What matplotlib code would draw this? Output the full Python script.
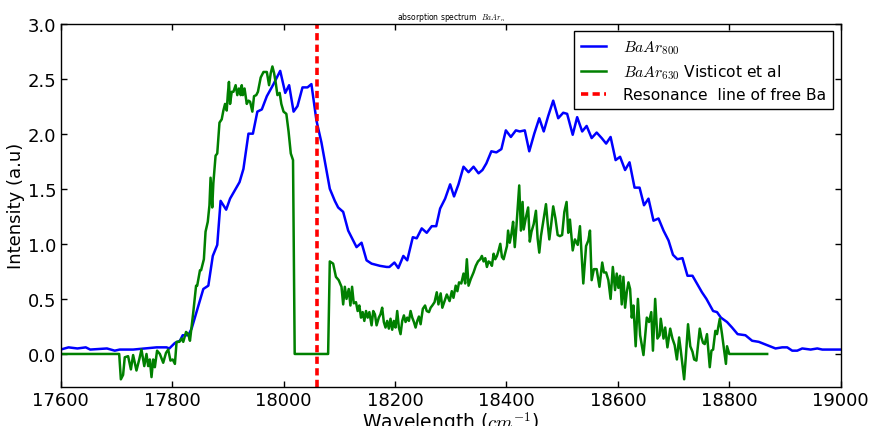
import matplotlib
matplotlib.use("Agg")
import matplotlib.pyplot as plt

plt.rcParams['mathtext.fontset'] = 'cm'

# BaAr_800 spectrum (blue)
blue_w = [17600, 17614, 17630, 17645, 17653, 17683, 17697, 17706, 17730, 17750,
          17772, 17790, 17795, 17805, 17814, 17819, 17829, 17835, 17856, 17865,
          17873, 17881, 17887, 17897, 17904, 17921, 17928, 17937, 17945, 17953,
          17961, 17970, 17982, 17994, 18003, 18010, 18018, 18025, 18034, 18043,
          18050, 18059, 18068, 18083, 18092, 18098, 18107, 18116, 18131, 18140,
          18149, 18158, 18173, 18185, 18190, 18199, 18206, 18215, 18222, 18232,
          18239, 18248, 18257, 18266, 18274, 18281, 18290, 18299, 18306, 18314,
          18323, 18332, 18341, 18350, 18357, 18364, 18373, 18382, 18391, 18399,
          18408, 18417, 18424, 18433, 18441, 18450, 18459, 18467, 18475, 18484,
          18493, 18502, 18509, 18519, 18527, 18536, 18544, 18553, 18562, 18571,
          18579, 18587, 18596, 18604, 18613, 18621, 18630, 18639, 18647, 18655,
          18664, 18673, 18682, 18691, 18699, 18707, 18716, 18725, 18734, 18742,
          18751, 18759, 18771, 18778, 18785, 18796, 18805, 18815, 18829, 18841,
          18853, 18868, 18883, 18895, 18904, 18913, 18922, 18931, 18946, 18958,
          18967, 18982, 19000]
blue_v = [0.04, 0.06, 0.05, 0.06, 0.04, 0.05, 0.03, 0.04, 0.04, 0.05,
          0.06, 0.06, 0.05, 0.10, 0.12, 0.17, 0.17, 0.23, 0.59, 0.62,
          0.89, 0.99, 1.39, 1.31, 1.41, 1.56, 1.68, 2.00, 2.00, 2.20,
          2.22, 2.34, 2.45, 2.57, 2.37, 2.44, 2.20, 2.25, 2.42, 2.42,
          2.45, 2.12, 1.92, 1.50, 1.39, 1.33, 1.29, 1.12, 0.97, 1.01,
          0.85, 0.82, 0.80, 0.79, 0.79, 0.83, 0.78, 0.89, 0.85, 1.06,
          1.05, 1.14, 1.10, 1.16, 1.16, 1.32, 1.41, 1.54, 1.43, 1.54,
          1.70, 1.65, 1.70, 1.64, 1.67, 1.73, 1.84, 1.83, 1.86, 2.03,
          1.97, 2.03, 2.02, 2.03, 1.84, 2.00, 2.14, 2.02, 2.16, 2.30,
          2.14, 2.19, 2.18, 1.99, 2.15, 2.02, 2.07, 1.96, 2.01, 1.96,
          1.91, 1.97, 1.76, 1.79, 1.67, 1.74, 1.51, 1.51, 1.35, 1.41,
          1.21, 1.23, 1.12, 1.03, 0.90, 0.86, 0.87, 0.71, 0.71, 0.64,
          0.56, 0.50, 0.39, 0.38, 0.33, 0.29, 0.24, 0.18, 0.17, 0.12,
          0.11, 0.08, 0.05, 0.06, 0.06, 0.03, 0.03, 0.05, 0.04, 0.05,
          0.04, 0.04, 0.04]

# BaAr_630 spectrum, Visticot et al (green)
green_w = [17600, 17705, 17708, 17712, 17715, 17721, 17726, 17730, 17736, 17741,
           17745, 17750, 17754, 17757, 17760, 17763, 17766, 17769, 17773, 17778,
           17784, 17789, 17793, 17797, 17801, 17805, 17808, 17813, 17817, 17820,
           17825, 17829, 17832, 17838, 17843, 17845, 17850, 17852, 17857, 17860,
           17864, 17867, 17869, 17872, 17874, 17878, 17881, 17885, 17889, 17892,
           17895, 17898, 17900, 17902, 17904, 17907, 17910, 17914, 17917, 17920,
           17923, 17925, 17927, 17930, 17934, 17937, 17940, 17944, 17947, 17951,
           17954, 17959, 17964, 17970, 17974, 17977, 17980, 17983, 17986, 17989,
           17993, 17996, 18000, 18005, 18009, 18013, 18017, 18020, 18080, 18083,
           18089, 18094, 18099, 18104, 18107, 18110, 18113, 18117, 18120, 18123,
           18126, 18130, 18133, 18136, 18139, 18142, 18145, 18148, 18151, 18154,
           18158, 18161, 18164, 18167, 18171, 18174, 18177, 18180, 18183, 18186,
           18189, 18192, 18195, 18198, 18201, 18204, 18207, 18210, 18213, 18216,
           18219, 18222, 18225, 18228, 18231, 18234, 18237, 18240, 18243, 18246,
           18250, 18254, 18257, 18261, 18264, 18267, 18271, 18275, 18278, 18282,
           18285, 18289, 18293, 18298, 18302, 18305, 18309, 18312, 18315, 18319,
           18323, 18326, 18329, 18332, 18336, 18341, 18345, 18349, 18353, 18356,
           18359, 18362, 18365, 18368, 18371, 18374, 18377, 18380, 18383, 18386,
           18389, 18392, 18395, 18398, 18401, 18403, 18406, 18409, 18412, 18415,
           18418, 18423, 18426, 18429, 18431, 18435, 18439, 18442, 18445, 18449,
           18453, 18456, 18459, 18462, 18466, 18471, 18474, 18477, 18480, 18484,
           18488, 18492, 18496, 18500, 18504, 18508, 18511, 18514, 18519, 18523,
           18528, 18532, 18538, 18543, 18547, 18550, 18553, 18557, 18562, 18567,
           18572, 18575, 18579, 18583, 18587, 18591, 18595, 18598, 18601, 18604,
           18607, 18610, 18613, 18616, 18619, 18622, 18625, 18628, 18632, 18636,
           18640, 18646, 18652, 18656, 18660, 18663, 18667, 18671, 18675, 18677,
           18682, 18685, 18689, 18694, 18698, 18702, 18706, 18710, 18713, 18719,
           18722, 18726, 18730, 18734, 18737, 18741, 18747, 18750, 18753, 18756,
           18760, 18765, 18768, 18771, 18775, 18778, 18783, 18787, 18791, 18794,
           18796, 18800, 18868]
green_v = [0.00, 0.00, -0.23, -0.19, -0.03, -0.02, -0.14, -0.01, -0.15, -0.05,
           0.04, -0.11, 0.00, -0.11, -0.05, -0.21, -0.05, -0.12, 0.03, 0.00,
           -0.08, 0.01, 0.04, -0.06, -0.05, -0.09, 0.11, 0.11, 0.14, 0.11,
           0.20, 0.18, 0.12, 0.38, 0.62, 0.62, 0.76, 0.76, 0.86, 1.11,
           1.20, 1.35, 1.60, 1.33, 1.55, 1.80, 1.82, 2.10, 2.13, 2.21,
           2.27, 2.21, 2.36, 2.47, 2.27, 2.38, 2.38, 2.44, 2.35, 2.41,
           2.35, 2.44, 2.35, 2.41, 2.27, 2.30, 2.29, 2.20, 2.34, 2.35,
           2.38, 2.51, 2.56, 2.56, 2.44, 2.55, 2.61, 2.55, 2.46, 2.35,
           2.37, 2.27, 2.20, 2.18, 2.02, 1.82, 1.76, 0.00, 0.00, 0.84,
           0.82, 0.70, 0.67, 0.61, 0.45, 0.61, 0.50, 0.59, 0.44, 0.61,
           0.46, 0.47, 0.39, 0.44, 0.33, 0.38, 0.30, 0.39, 0.33, 0.38,
           0.26, 0.39, 0.36, 0.26, 0.33, 0.36, 0.42, 0.29, 0.24, 0.30,
           0.23, 0.32, 0.22, 0.30, 0.24, 0.39, 0.24, 0.18, 0.30, 0.35,
           0.29, 0.33, 0.30, 0.39, 0.33, 0.29, 0.24, 0.30, 0.34, 0.27,
           0.41, 0.44, 0.39, 0.38, 0.42, 0.44, 0.47, 0.56, 0.45, 0.55,
           0.42, 0.48, 0.54, 0.48, 0.57, 0.51, 0.62, 0.57, 0.65, 0.64,
           0.73, 0.64, 0.86, 0.62, 0.68, 0.74, 0.80, 0.84, 0.86, 0.89,
           0.84, 0.87, 0.79, 0.84, 0.83, 0.80, 0.91, 0.86, 0.89, 0.94,
           1.00, 0.88, 0.86, 0.92, 0.98, 1.12, 1.01, 1.09, 1.20, 0.97,
           1.16, 1.53, 1.12, 1.38, 1.13, 1.24, 1.33, 1.02, 1.11, 1.18,
           1.30, 1.05, 0.92, 1.07, 1.20, 1.36, 1.19, 1.04, 1.16, 1.34,
           1.23, 1.08, 1.07, 1.08, 1.29, 1.38, 1.10, 1.22, 0.94, 1.04,
           0.99, 1.16, 0.64, 0.98, 1.03, 1.12, 0.67, 0.77, 0.77, 0.61,
           0.83, 0.74, 0.74, 0.67, 0.50, 0.79, 0.58, 0.73, 0.60, 0.71,
           0.45, 0.70, 0.42, 0.56, 0.65, 0.59, 0.33, 0.44, 0.07, 0.50,
           0.17, -0.01, 0.33, 0.29, 0.38, 0.03, 0.50, 0.14, 0.17, 0.32,
           0.14, 0.24, 0.06, 0.23, 0.14, 0.08, -0.05, 0.15, 0.03, -0.23,
           -0.03, 0.27, 0.07, 0.02, -0.05, -0.06, 0.23, 0.15, 0.10, 0.09,
           0.18, -0.12, 0.03, 0.04, 0.21, 0.18, 0.32, 0.18, 0.03, -0.09,
           0.07, 0.00, 0.00]

resonance = 18060
x_ticks = [17600, 17800, 18000, 18200, 18400, 18600, 18800, 19000]
y_ticks = [0.0, 0.5, 1.0, 1.5, 2.0, 2.5, 3.0]

fig = plt.figure(figsize=(8.72, 4.27), dpi=100)
ax = fig.add_axes([0.0696, 0.0913, 0.8945, 0.8513])

ax.plot(blue_w, blue_v, color='b', lw=1.8, label=r'$BaAr_{800}$')
ax.plot(green_w, green_v, color='g', lw=1.8, label=r'$BaAr_{630}$ Visticot et al')
ax.axvline(resonance, color='r', lw=2.6, dashes=(2, 1.2),
           label='Resonance  line of free Ba')

ax.set_xlim(17600, 19000)
ax.set_ylim(-0.3, 3.0)
ax.set_xticks(x_ticks)
ax.set_yticks(y_ticks)
ax.tick_params(direction='in', length=4, width=1, top=True, right=True,
               labelsize=13, pad=3)
for s in ax.spines.values():
    s.set_linewidth(1)

ax.set_xlabel(r'Wavelength ($cm^{-1}$)', fontsize=13.5, labelpad=0)
ax.set_ylabel('Intensity (a.u)', fontsize=13, labelpad=2)
ax.set_title(r'absorption spectrum  $BaAr_n$', fontsize=5.5, pad=3)

leg = ax.legend(loc='upper right', fontsize=11.2, fancybox=False,
                framealpha=1, edgecolor='black', handlelength=1.6,
                handletextpad=1.1, labelspacing=0.4, borderpad=0.45,
                borderaxespad=0.5)
leg.get_frame().set_linewidth(1)

fig.savefig('out.png', dpi=100)
